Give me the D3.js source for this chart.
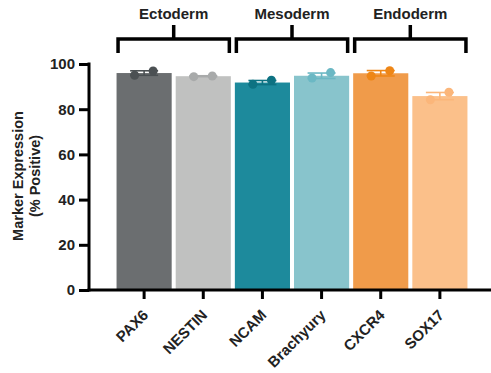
<!DOCTYPE html>
<html><head><meta charset="utf-8">
<script src="https://cdn.jsdelivr.net/npm/d3@7"></script>
<style>
body{margin:0;background:#fff;}
text{font-family:"Liberation Sans",Arial,sans-serif;font-weight:bold;fill:#222;}
</style></head>
<body><svg id="chart" width="491" height="373"></svg>
<script>
const categories = ["PAX6","NESTIN","NCAM","Brachyury","CXCR4","SOX17"];
const means = [96.0, 94.6, 91.8, 94.8, 95.9, 85.8];
const errors = [1.0, 0.2, 0.9, 1.2, 1.2, 1.6];
const rep1 = [95.0, 94.4, 91.0, 93.8, 94.7, 84.2];
const rep2 = [96.9, 94.7, 92.8, 96.2, 97.0, 87.5];
const barColors = ["#6b6e70","#c0c1c0","#1d8a9c","#88c4cc","#f09b4a","#fbc08a"];
const dotColors = ["#4b5053","#a8aaaa","#0d7282","#6bb8c4","#ee8616","#fbb67a"];
const groups = ["Ectoderm","Mesoderm","Endoderm"];
const groupStart = ["PAX6","NCAM","CXCR4"];
const groupEnd = ["NESTIN","Brachyury","SOX17"];
const yTicks = [0,20,40,60,80,100];

const svg = d3.select("#chart");
const x = d3.scaleBand().domain(categories).range([113, 471]).paddingInner(0.068).paddingOuter(0.06);
const y = d3.scaleLinear().domain([0,100]).range([290,64]);

// bars
svg.selectAll("rect.bar").data(categories).join("rect")
  .attr("x", d => x(d)).attr("width", x.bandwidth())
  .attr("y", (d,i) => y(means[i])).attr("height", (d,i) => y(0)-y(means[i]))
  .attr("fill", (d,i) => barColors[i]);

// error bars + replicate dots
const capW = 28;
categories.forEach((c,i) => {
  const cx = x(c) + x.bandwidth()/2;
  const g = svg.append("g").attr("stroke", dotColors[i]).attr("stroke-width", 1.6);
  g.append("line").attr("x1", cx).attr("x2", cx).attr("y1", y(means[i]-errors[i])).attr("y2", y(means[i]+errors[i]));
  g.append("line").attr("x1", cx-capW/2).attr("x2", cx+capW/2).attr("y1", y(means[i]+errors[i])).attr("y2", y(means[i]+errors[i]));
  g.append("line").attr("x1", cx-capW/2).attr("x2", cx+capW/2).attr("y1", y(means[i]-errors[i])).attr("y2", y(means[i]-errors[i]));
  svg.append("circle").attr("cx", cx-9.5).attr("cy", y(rep1[i])).attr("r", 4.5).attr("fill", dotColors[i]);
  svg.append("circle").attr("cx", cx+9).attr("cy", y(rep2[i])).attr("r", 4.5).attr("fill", dotColors[i]);
});

// y axis
const yAxis = svg.append("g").attr("transform","translate(89,0)")
  .call(d3.axisLeft(y).tickValues(yTicks).tickSize(10).tickPadding(4));
yAxis.select(".domain").attr("stroke","#000").attr("stroke-width",3).attr("d","M0,62.5V291.5");
yAxis.selectAll(".tick line").attr("stroke","#000").attr("stroke-width",3);
yAxis.selectAll(".tick text").style("font-size","15px").attr("fill","#222");

// x axis
const xAxis = svg.append("g").attr("transform","translate(0,290)")
  .call(d3.axisBottom(x).tickSize(9).tickPadding(0));
xAxis.select(".domain").attr("stroke","#000").attr("stroke-width",3).attr("d","M87.5,0H491");
xAxis.selectAll(".tick line").attr("stroke","#000").attr("stroke-width",3);
xAxis.selectAll(".tick text").style("font-size","15px").attr("fill","#222")
  .attr("text-anchor","end").attr("dy",null).attr("y",null)
  .attr("transform","translate(5,26) rotate(-45)");

// y title
const yt = svg.append("text").attr("transform","translate(22.5,176) rotate(-90)").attr("text-anchor","middle").style("font-size","14.5px");
yt.append("tspan").attr("x",0).attr("dy",0).text("Marker Expression");
yt.append("tspan").attr("x",0).attr("dy",17.5).text("(% Positive)");

// group brackets
groups.forEach((gname,i) => {
  const x0 = x(groupStart[i]) + 1.5, x1 = x(groupEnd[i]) + x.bandwidth() - 1.5;
  const mid = (x0 + x1)/2;
  svg.append("path").attr("d", `M${x0},53V39H${x1}V53M${mid},39V25`)
    .attr("fill","none").attr("stroke","#000").attr("stroke-width",3.5);
  svg.append("text").attr("x", mid).attr("y", 19).attr("text-anchor","middle").style("font-size","15px").text(gname);
});
</script></body></html>
